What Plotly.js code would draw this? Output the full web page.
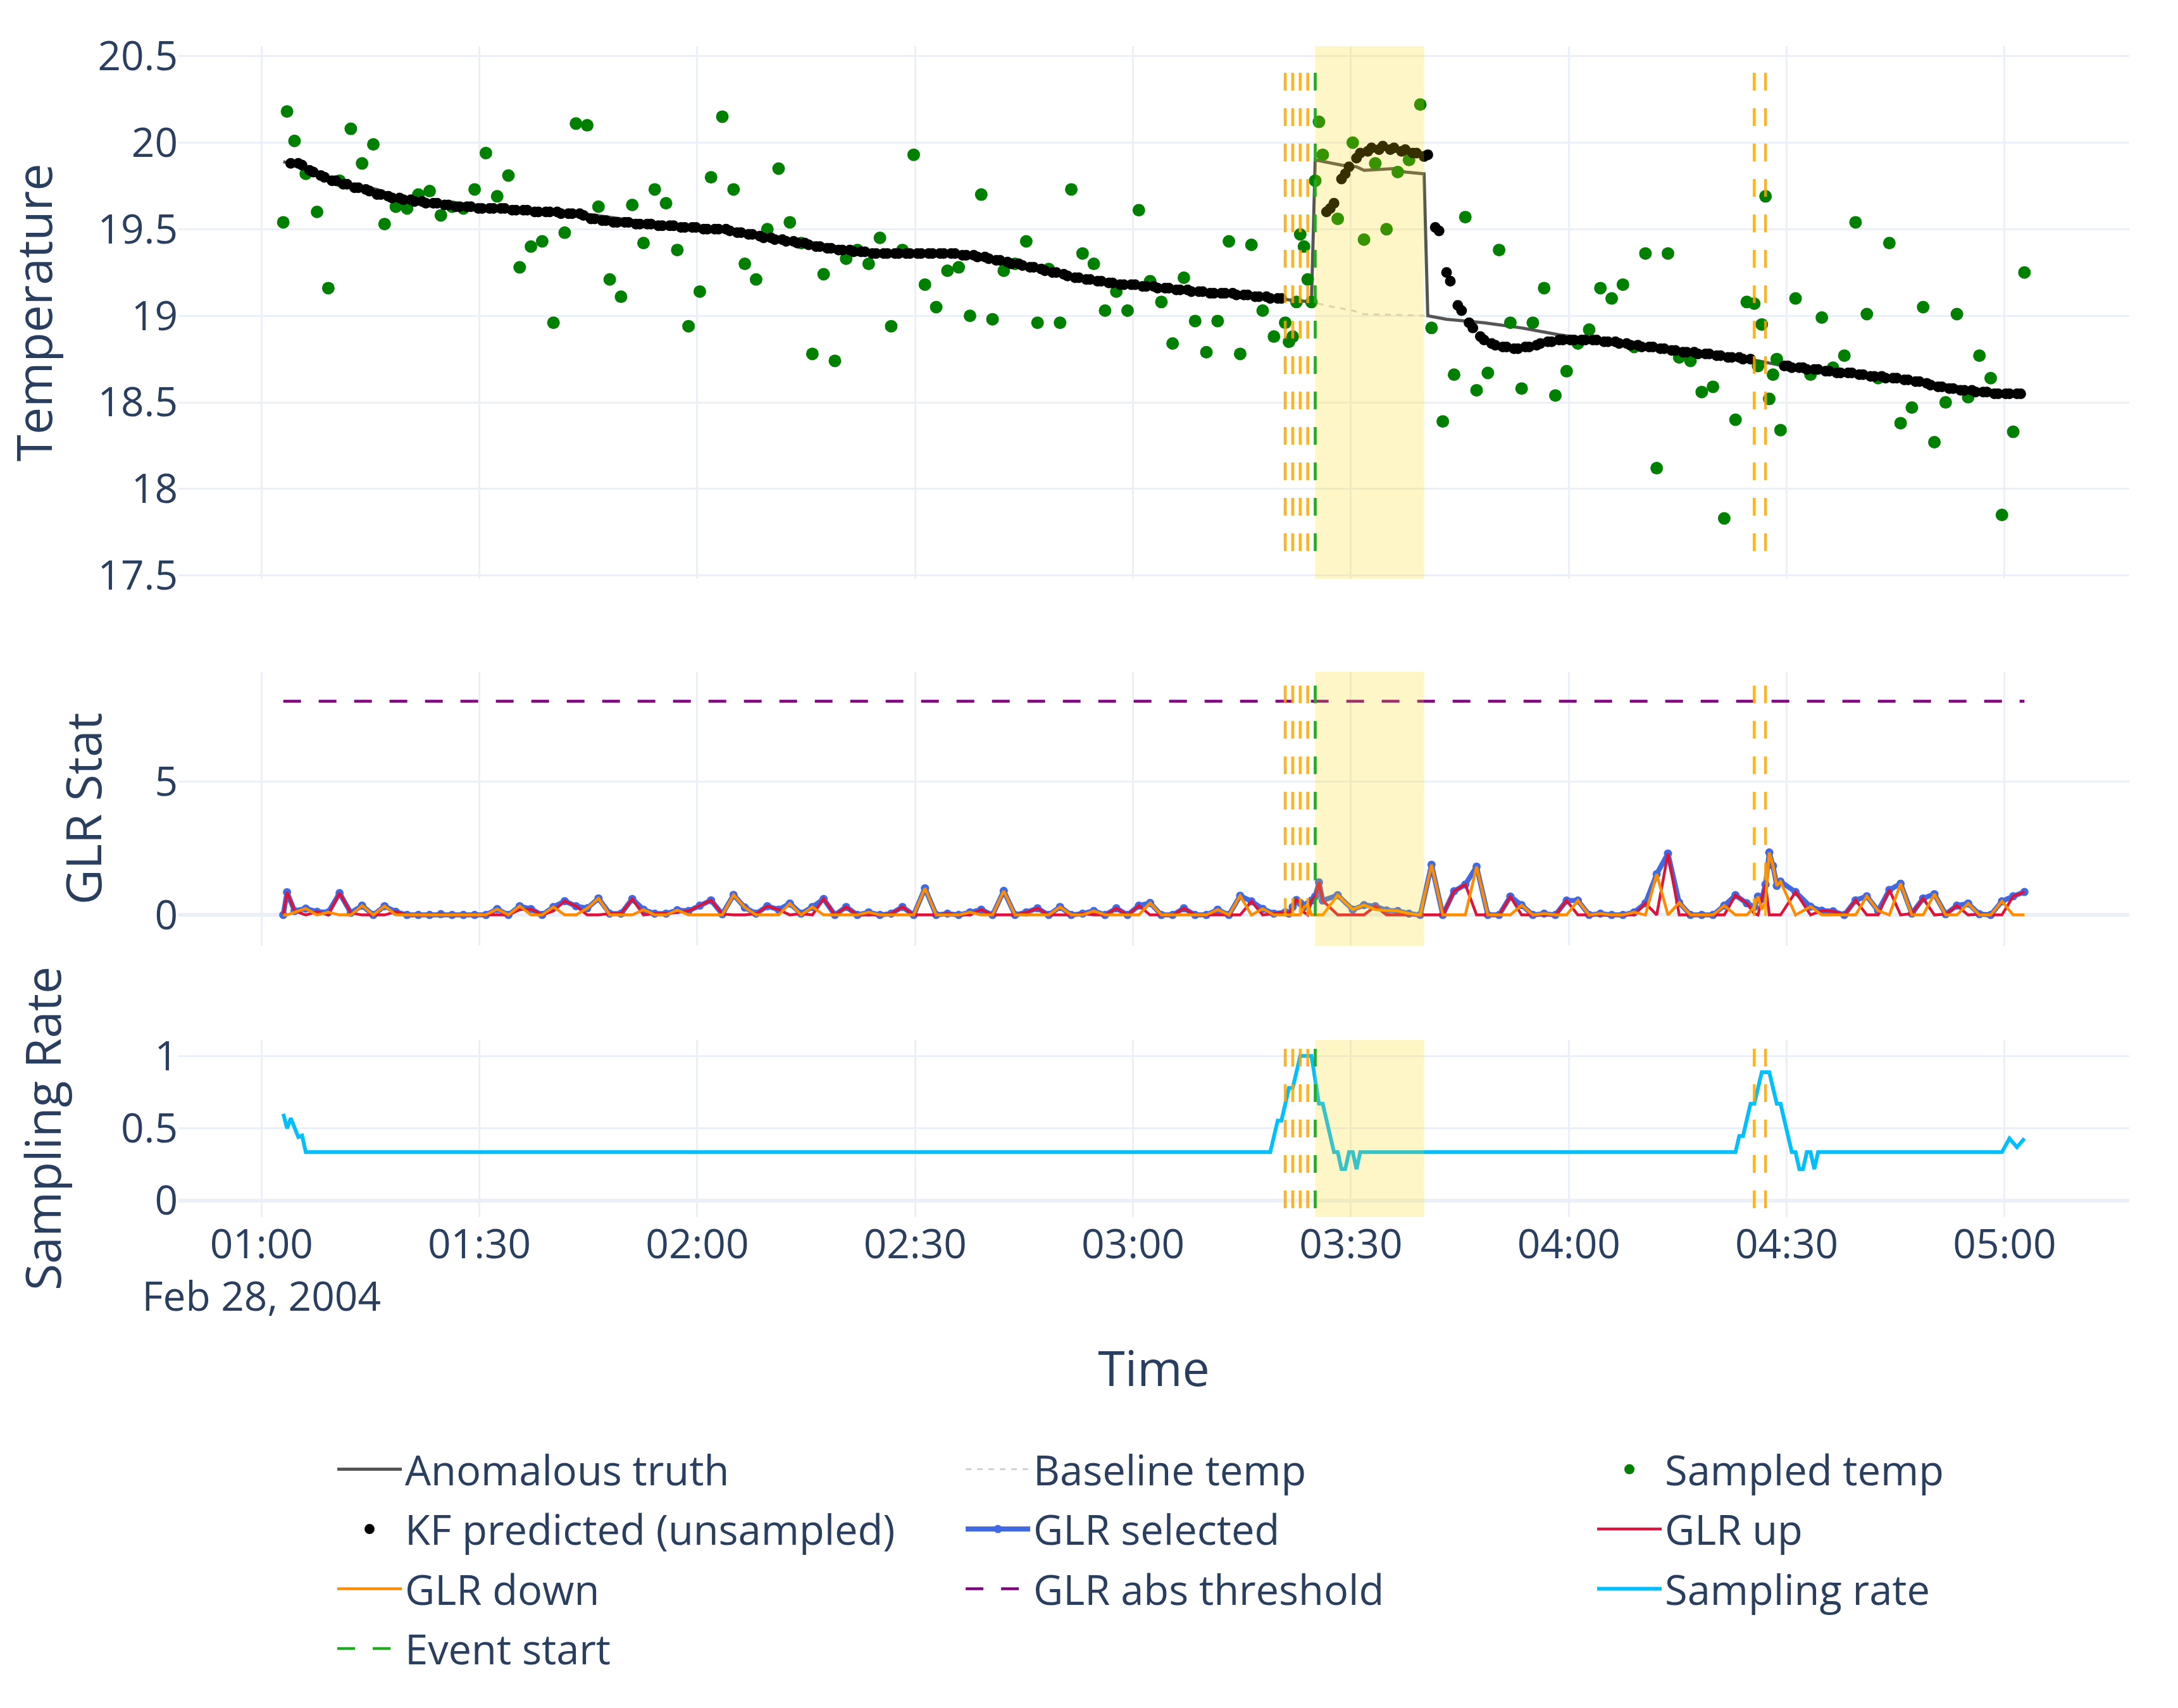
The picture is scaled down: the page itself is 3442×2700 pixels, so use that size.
<!DOCTYPE html>
<html>
<head>
<meta charset="utf-8">
<script src="https://cdn.plot.ly/plotly-3.0.1.min.js"></script>
<style>
  html, body { margin: 0; padding: 0; background: #ffffff; }
  #chart { width: 3442px; height: 2700px; }
</style>
</head>
<body>
<div id="chart"></div>
<script>
// Sensor epochs: one reading slot every 31 s starting 01:03:00.
const startTime = Date.UTC(2004, 1, 28, 1, 3, 0);
const epochSeconds = 31;

// Epochs at which the sensor was actually sampled.
const sampledIdx = [0,1,3,6,9,12,15,18,21,24,27,30,33,36,39,42,45,48,51,54,57,60,63,66,69,72,75,78,81,84,87,90,93,96,99,102,105,108,111,114,117,120,123,126,129,132,135,138,141,144,147,150,153,156,159,162,165,168,171,174,177,180,183,186,189,192,195,198,201,204,207,210,213,216,219,222,225,228,231,234,237,240,243,246,249,252,255,258,261,264,267,268,269,270,271,272,273,274,275,276,277,281,285,288,291,294,297,300,303,306,309,312,315,318,321,324,327,330,333,336,339,342,345,348,351,354,357,360,363,366,369,372,375,378,381,384,387,390,392,393,394,395,396,397,398,399,403,407,410,413,416,419,422,425,428,431,434,437,440,443,446,449,452,455,458,461,464];

// Measured temperature at the sampled epochs.
const sampledTemp = [
  19.54,20.18,20.01,19.82,19.60,19.16,19.78,20.08,19.88,19.99,
  19.53,19.63,19.62,19.70,19.72,19.58,19.63,19.62,19.73,19.94,
  19.69,19.81,19.28,19.40,19.43,18.96,19.48,20.11,20.10,19.63,
  19.21,19.11,19.64,19.42,19.73,19.65,19.38,18.94,19.14,19.80,
  20.15,19.73,19.30,19.21,19.50,19.85,19.54,19.42,18.78,19.24,
  18.74,19.33,19.38,19.30,19.45,18.94,19.38,19.93,19.18,19.05,
  19.26,19.28,19.00,19.70,18.98,19.26,19.30,19.43,18.96,19.27,
  18.96,19.73,19.36,19.30,19.03,19.14,19.03,19.61,19.20,19.08,
  18.84,19.22,18.97,18.79,18.97,19.43,18.78,19.41,19.03,18.88,
  18.96,18.85,18.88,19.08,19.47,19.40,19.21,19.08,19.78,20.12,
  19.93,19.56,20.00,19.44,19.88,19.50,19.83,19.90,20.22,18.93,
  18.39,18.66,19.57,18.57,18.67,19.38,18.96,18.58,18.96,19.16,
  18.54,18.68,18.84,18.92,19.16,19.10,19.18,18.82,19.36,18.12,
  19.36,18.76,18.74,18.56,18.59,17.83,18.40,19.08,19.07,18.71,
  18.95,19.69,18.52,18.66,18.75,18.34,19.10,18.66,18.99,18.70,
  18.77,19.54,19.01,18.64,19.42,18.38,18.47,19.05,18.27,18.50,
  19.01,18.53,18.77,18.64,17.85,18.33,19.25
];

// Kalman-filter temperature estimate for every epoch (shown only where unsampled).
const kfPredicted = [
  19.88,19.88,19.88,19.88,19.88,19.87,19.86,19.84,19.83,19.82,
  19.81,19.80,19.79,19.78,19.78,19.77,19.76,19.76,19.75,19.74,
  19.74,19.73,19.73,19.72,19.71,19.70,19.70,19.69,19.69,19.68,
  19.68,19.68,19.67,19.67,19.67,19.66,19.66,19.66,19.65,19.65,
  19.65,19.65,19.64,19.64,19.64,19.64,19.63,19.63,19.63,19.63,
  19.63,19.62,19.62,19.62,19.62,19.62,19.62,19.62,19.62,19.62,
  19.61,19.61,19.61,19.61,19.61,19.61,19.61,19.60,19.60,19.60,
  19.60,19.60,19.60,19.60,19.59,19.59,19.59,19.59,19.59,19.59,
  19.58,19.57,19.56,19.56,19.55,19.55,19.55,19.55,19.54,19.54,
  19.54,19.54,19.54,19.53,19.53,19.53,19.53,19.53,19.53,19.52,
  19.52,19.52,19.52,19.52,19.52,19.52,19.51,19.51,19.51,19.51,
  19.51,19.51,19.50,19.50,19.50,19.50,19.50,19.50,19.50,19.49,
  19.49,19.48,19.48,19.47,19.47,19.47,19.46,19.46,19.45,19.45,
  19.45,19.44,19.44,19.44,19.43,19.43,19.43,19.42,19.42,19.42,
  19.41,19.41,19.40,19.40,19.40,19.39,19.39,19.39,19.38,19.38,
  19.38,19.38,19.37,19.37,19.37,19.37,19.37,19.36,19.36,19.36,
  19.36,19.36,19.36,19.36,19.36,19.36,19.36,19.36,19.36,19.36,
  19.36,19.36,19.36,19.36,19.36,19.36,19.36,19.36,19.36,19.36,
  19.36,19.35,19.35,19.35,19.35,19.34,19.34,19.34,19.33,19.33,
  19.32,19.32,19.31,19.31,19.30,19.30,19.30,19.29,19.29,19.28,
  19.28,19.27,19.27,19.26,19.26,19.25,19.25,19.24,19.24,19.23,
  19.23,19.22,19.22,19.21,19.21,19.21,19.20,19.20,19.20,19.19,
  19.19,19.19,19.19,19.18,19.18,19.18,19.18,19.18,19.17,19.17,
  19.17,19.17,19.17,19.16,19.16,19.16,19.16,19.15,19.15,19.15,
  19.15,19.15,19.14,19.14,19.14,19.14,19.14,19.13,19.13,19.13,
  19.13,19.13,19.13,19.13,19.12,19.12,19.12,19.12,19.11,19.11,
  19.11,19.11,19.11,19.10,19.10,19.10,19.10,19.10,19.10,19.10,
  19.10,19.10,19.10,19.10,19.10,19.10,19.10,19.10,19.60,19.62,
  19.65,19.72,19.79,19.82,19.86,19.89,19.91,19.94,19.95,19.95,
  19.97,19.97,19.96,19.98,19.97,19.96,19.97,19.96,19.95,19.96,
  19.95,19.94,19.94,19.93,19.92,19.93,19.72,19.51,19.49,19.37,
  19.25,19.20,19.12,19.06,19.03,18.99,18.96,18.93,18.90,18.88,
  18.86,18.85,18.84,18.83,18.83,18.82,18.82,18.81,18.81,18.81,
  18.81,18.82,18.82,18.83,18.83,18.84,18.84,18.85,18.85,18.85,
  18.86,18.86,18.86,18.86,18.86,18.86,18.86,18.86,18.86,18.86,
  18.86,18.85,18.85,18.85,18.85,18.85,18.84,18.84,18.84,18.83,
  18.83,18.83,18.82,18.82,18.82,18.82,18.81,18.81,18.81,18.81,
  18.80,18.80,18.80,18.79,18.79,18.79,18.79,18.78,18.78,18.78,
  18.78,18.77,18.77,18.77,18.77,18.76,18.76,18.76,18.76,18.75,
  18.75,18.75,18.75,18.74,18.74,18.73,18.73,18.72,18.72,18.71,
  18.71,18.71,18.70,18.70,18.70,18.70,18.69,18.69,18.69,18.69,
  18.68,18.68,18.68,18.68,18.67,18.67,18.67,18.67,18.67,18.66,
  18.66,18.66,18.66,18.65,18.65,18.65,18.65,18.64,18.64,18.64,
  18.64,18.63,18.63,18.63,18.63,18.62,18.62,18.61,18.61,18.60,
  18.60,18.59,18.59,18.58,18.58,18.58,18.58,18.57,18.57,18.57,
  18.57,18.56,18.56,18.56,18.56,18.56,18.55,18.55,18.55,18.55,
  18.55,18.55,18.55,18.55,18.55
];

// Ground-truth temperature with the injected step anomaly (line vertices).
const truthIdx  = [0,5,12,20,25,30,40,60,80,100,120,130,150,165,185,200,215,235,255,274,275,282,286,288,296,299,304,305,310,320,330,340,350,360,370,380,393,400,420,440,450,464];
const truthTemp = [19.89,19.86,19.79,19.75,19.73,19.69,19.66,19.62,19.59,19.53,19.50,19.46,19.39,19.36,19.35,19.28,19.21,19.16,19.12,19.08,19.90,19.87,19.86,19.84,19.85,19.83,19.82,19.00,18.98,18.96,18.93,18.89,18.86,18.84,18.81,18.78,18.74,18.71,18.66,18.61,18.58,18.55];

// Baseline temperature without the anomaly (line vertices).
const baselineIdx  = [0,5,12,20,25,30,40,60,80,100,120,130,150,165,185,200,215,235,255,274,280,285,288,304,305,310,320,330,340,350,360,370,380,393,400,420,440,450,464];
const baselineTemp = [19.89,19.86,19.79,19.75,19.73,19.69,19.66,19.62,19.59,19.53,19.50,19.46,19.39,19.36,19.35,19.28,19.21,19.16,19.12,19.08,19.05,19.03,19.01,19.00,19.00,18.98,18.96,18.93,18.89,18.86,18.84,18.81,18.78,18.74,18.71,18.66,18.61,18.58,18.55];

// GLR statistics at the sampled epochs.
const glrUp = [
  0,0.85,0.15,0,0.12,0,0.82,0.08,0,0,
  0,0.12,0,0,0,0.03,0,0,0,0,
  0,0,0.2,0.22,0,0.15,0.52,0.33,0,0,
  0.05,0.05,0.6,0,0.05,0.05,0.1,0.15,0.35,0.55,
  0.03,0,0,0.05,0.33,0.2,0,0.05,0,0.6,
  0,0.3,0,0,0,0.05,0.3,0,0,0,
  0.05,0,0,0.2,0,0,0,0.1,0.25,0,
  0,0,0.05,0,0,0.25,0,0.35,0,0,
  0,0.25,0,0,0,0,0,0.51,0,0.05,
  0.1,0.05,0.3,0.56,0.45,0.1,0,0.54,0.69,1.22,
  0.54,0,0,0,0.33,0,0,0,0,0,
  0,0.89,1.14,0,0,0,0.69,0,0,0,
  0,0.54,0,0,0,0,0,0,0.44,0,
  2.30,0,0,0,0,0,0.74,0.44,0.05,0,
  0.6,1.14,0,0,0,0,0.86,0,0.16,0.14,
  0,0.55,0,0,0.94,0,0.05,0.62,0,0.03,
  0.35,0,0.03,0,0,0.70,0.86
];
const glrDown = [
  0,0,0.1,0.24,0,0.1,0,0,0.35,0,
  0.33,0,0,0,0,0,0,0,0,0,
  0.22,0,0.33,0,0,0.3,0,0,0.25,0.62,
  0,0,0,0.2,0,0,0.18,0,0,0,
  0,0.75,0.28,0,0,0,0.43,0,0.3,0,
  0,0,0,0.1,0,0,0,0,1.0,0,
  0,0,0.1,0,0,0.9,0,0,0,0,
  0.3,0,0,0.15,0,0,0,0,0.45,0,
  0,0,0,0,0.2,0,0.72,0,0.23,0,
  0,0,0,0,0,0.3,0.4,0,0,0,
  0,0.74,0.2,0.37,0.2,0.17,0.15,0.05,0,1.88,
  0,0,0,1.81,0,0,0,0.37,0,0.05,
  0,0,0.54,0,0.05,0,0,0.1,0,1.53,
  0,0.46,0,0,0,0.35,0,0,0.3,0.69,
  0.2,0.5,2.34,1.84,1.09,1.25,0,0.31,0,0,
  0,0,0.70,0.16,0,1.17,0,0,0.78,0,
  0,0.43,0,0,0.51,0,0
];
const glrSelected = [
  0,0.85,0.15,0.24,0.12,0.1,0.82,0.08,0.35,0,
  0.33,0.12,0,0,0,0.03,0,0,0,0,
  0.22,0,0.33,0.22,0,0.3,0.52,0.33,0.25,0.62,
  0.05,0.05,0.6,0.2,0.05,0.05,0.18,0.15,0.35,0.55,
  0.03,0.75,0.28,0.05,0.33,0.2,0.43,0.05,0.3,0.6,
  0,0.3,0,0.1,0,0.05,0.3,0,1.0,0,
  0.05,0,0.1,0.2,0,0.9,0,0.1,0.25,0,
  0.3,0,0.05,0.15,0,0.25,0,0.35,0.45,0,
  0,0.25,0,0,0.2,0,0.72,0.51,0.23,0.05,
  0.1,0.05,0.3,0.56,0.45,0.3,0.4,0.54,0.69,1.22,
  0.54,0.74,0.2,0.37,0.33,0.17,0.15,0.05,0,1.88,
  0,0.89,1.14,1.81,0,0,0.69,0.37,0,0.05,
  0,0.54,0.54,0,0.05,0,0,0.1,0.44,1.53,
  2.30,0.46,0,0,0,0.35,0.74,0.44,0.3,0.69,
  0.6,1.14,2.34,1.84,1.09,1.25,0.86,0.31,0.16,0.14,
  0,0.55,0.70,0.16,0.94,1.17,0.05,0.62,0.78,0.03,
  0.35,0.43,0.03,0,0.51,0.70,0.86
];
const glrThreshold = 8;

// Adaptive sampling rate (line vertices).
const rateIdx = [0,1,2,4,5,6,263,265,266,268,269,271,274,276,277,280,281,282,283,284,285,286,287,387,388,389,391,392,394,396,398,399,402,403,404,405,406,407,408,409,458,460,462,464];
const rateVal = [0.60,0.50,0.57,0.44,0.45,0.335,0.335,0.553,0.553,0.779,0.779,1.0,1.0,0.67,0.67,0.335,0.335,0.218,0.218,0.335,0.335,0.218,0.335,0.335,0.447,0.447,0.67,0.67,0.888,0.888,0.67,0.67,0.335,0.335,0.218,0.218,0.335,0.335,0.218,0.335,0.335,0.43,0.37,0.43];

// Detector alarms, event onset and event window (epoch numbers).
const detectionIdx = [267, 269, 271, 273, 392, 395];
const eventStartIdx = 275;
const eventEndIdx = 304;

// ---- helpers ----
function when(i) {
  return new Date(startTime + i * epochSeconds * 1000).toISOString().slice(0, 19).replace('T', ' ');
}

const sampledSet = new Set(sampledIdx);
const kfX = [], kfY = [];
kfPredicted.forEach(function (v, i) {
  if (!sampledSet.has(i)) { kfX.push(when(i)); kfY.push(v); }
});
const sampledX = sampledIdx.map(when);

// ---- traces (legend columns: legend / legend2 / legend3) ----
const traces = [
  { x: baselineIdx.map(when), y: baselineTemp, mode: 'lines', name: 'Baseline temp',
    line: { color: 'lightgray', width: 3, dash: '9px,9px' }, xaxis: 'x', yaxis: 'y',
    legend: 'legend2', legendgroup: 'baseline', legendrank: 1 },
  { x: truthIdx.map(when), y: truthTemp, mode: 'lines', name: 'Anomalous truth',
    line: { color: '#555555', width: 5 }, xaxis: 'x', yaxis: 'y',
    legend: 'legend', legendgroup: 'truth', legendrank: 1 },
  { x: sampledX, y: sampledTemp, mode: 'markers', name: 'Sampled temp',
    marker: { color: 'green', size: 20 }, xaxis: 'x', yaxis: 'y',
    legend: 'legend3', legendgroup: 'sampled', legendrank: 1 },
  { x: kfX, y: kfY, mode: 'markers', name: 'KF predicted (unsampled)',
    marker: { color: 'black', size: 17 }, xaxis: 'x', yaxis: 'y',
    legend: 'legend', legendgroup: 'kf', legendrank: 2 },
  { x: sampledX, y: glrSelected, mode: 'lines+markers', name: 'GLR selected',
    line: { color: 'royalblue', width: 8 }, marker: { color: 'royalblue', size: 13 },
    xaxis: 'x2', yaxis: 'y2', legend: 'legend2', legendgroup: 'sel', legendrank: 2 },
  { x: sampledX, y: glrUp, mode: 'lines', name: 'GLR up',
    line: { color: 'crimson', width: 4.5 }, xaxis: 'x2', yaxis: 'y2',
    legend: 'legend3', legendgroup: 'up', legendrank: 2 },
  { x: sampledX, y: glrDown, mode: 'lines', name: 'GLR down',
    line: { color: 'darkorange', width: 4.5 }, xaxis: 'x2', yaxis: 'y2',
    legend: 'legend', legendgroup: 'down', legendrank: 3 },
  { x: [when(0), when(464)], y: [glrThreshold, glrThreshold], mode: 'lines', name: 'GLR abs threshold',
    line: { color: 'purple', width: 4.5, dash: '28px,28px' }, xaxis: 'x2', yaxis: 'y2',
    legend: 'legend2', legendgroup: 'thr', legendrank: 3 },
  { x: rateIdx.map(when), y: rateVal, mode: 'lines', name: 'Sampling rate',
    line: { color: 'deepskyblue', width: 6 }, xaxis: 'x3', yaxis: 'y3',
    legend: 'legend3', legendgroup: 'rate', legendrank: 3 }
];

// ---- shapes: event window, alarms and event onset in each panel ----
const panels = [['x', 'y domain'], ['x2', 'y2 domain'], ['x3', 'y3 domain']];
const shapes = [];
panels.forEach(function (p, k) {
  shapes.push({ type: 'rect', xref: p[0], yref: p[1], x0: when(eventStartIdx), x1: when(eventEndIdx),
    y0: 0, y1: 1, fillcolor: 'gold', opacity: 0.22, line: { width: 0 }, layer: 'above' });
  detectionIdx.forEach(function (d) {
    shapes.push({ type: 'line', xref: p[0], yref: p[1], x0: when(d), x1: when(d), y0: 0.95, y1: 0.05,
      line: { color: 'orange', width: 4.5, dash: '28px,28px' }, opacity: 0.85, layer: 'above' });
  });
  shapes.push({ type: 'line', xref: p[0], yref: p[1], x0: when(eventStartIdx), x1: when(eventStartIdx),
    y0: 0.95, y1: 0.05, line: { color: 'rgb(34,170,34)', width: 4.5, dash: '28px,28px' }, layer: 'above',
    name: 'Event start', showlegend: k === 0, legend: 'legend', legendgroup: 'event', legendrank: 4 });
});

// ---- layout ----
const gridColor = '#EBF0F8';
const xRange = ['2004-02-28 00:48:34', '2004-02-28 05:17:10'];
function xAxis(anchor, showLabels) {
  return {
    type: 'date', range: xRange, anchor: anchor, dtick: 1800000, tick0: '2004-02-28 01:00:00',
    showgrid: true, gridcolor: gridColor, gridwidth: 3, zeroline: false, showline: false,
    showticklabels: showLabels, ticks: '', tickfont: { size: 64 }
  };
}
function yAxis(anchor, domain, range, dtick, title, standoff) {
  return {
    anchor: anchor, domain: domain, range: range, dtick: dtick, showgrid: true,
    gridcolor: gridColor, gridwidth: 3, zeroline: true, zerolinecolor: gridColor, zerolinewidth: 6,
    ticks: '', tickfont: { size: 64 }, title: { text: title, font: { size: 77 }, standoff: standoff }
  };
}

const xBottom = xAxis('y3', true);
xBottom.title = { text: 'Time', font: { size: 77 }, standoff: 46 };

function legendColumn(x) {
  return {
    orientation: 'v', x: x, xanchor: 'left', y: -0.189, yanchor: 'top',
    font: { size: 65 }, itemwidth: 102, tracegroupgap: 7, bgcolor: 'rgba(0,0,0,0)'
  };
}

const layout = {
  width: 3442, height: 2700,
  paper_bgcolor: '#ffffff', plot_bgcolor: '#ffffff',
  font: { family: '"Open Sans", verdana, arial, sans-serif', color: '#2a3f5f', size: 64 },
  margin: { l: 282, r: 77, t: 73, b: 776, pad: 0 },
  showlegend: true,
  legend: legendColumn(0.0798),
  legend2: legendColumn(0.4019),
  legend3: legendColumn(0.7256),
  xaxis: xAxis('y', false),
  xaxis2: xAxis('y2', false),
  xaxis3: xBottom,
  yaxis: yAxis('x', [0.5451, 1], [17.481, 20.557], 0.5, 'Temperature', 71),
  yaxis2: yAxis('x2', [0.2318, 0.4657], [-1.15, 9.10], 5, 'GLR Stat', 58),
  yaxis3: yAxis('x3', [0, 0.1513], [-0.114, 1.111], 0.5, 'Sampling Rate', 69),
  shapes: shapes
};

Plotly.newPlot('chart', traces, layout, { displayModeBar: false, staticPlot: true });
</script>
</body>
</html>
